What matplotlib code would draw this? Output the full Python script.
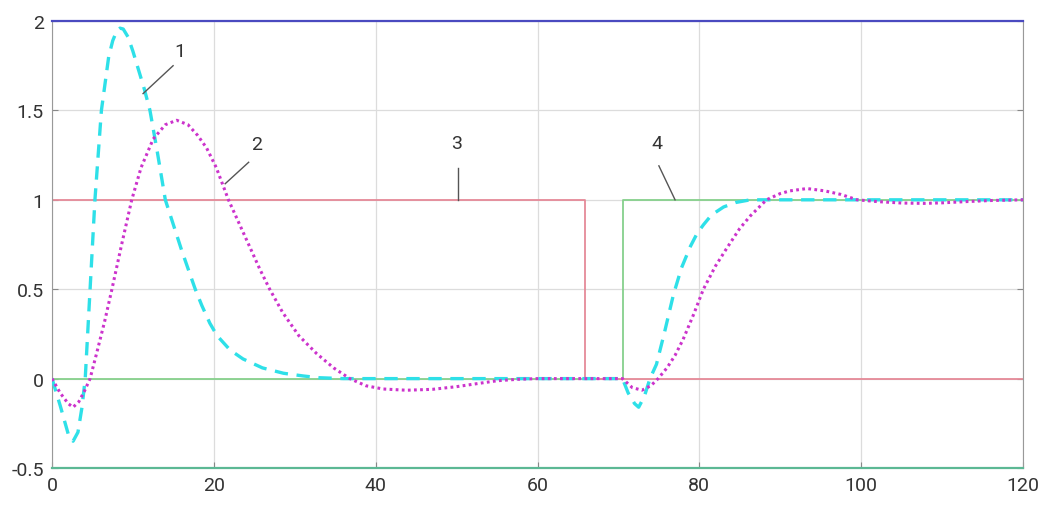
import matplotlib
matplotlib.use("Agg")
import matplotlib.pyplot as plt

# curve 1 (cyan dashed)
t1 = [0, 1, 2, 2.6, 3.2, 3.7, 4.1, 4.7, 5.3, 6.1, 7.0, 7.5, 8.0, 8.4, 8.8, 9.4, 10.0,
      10.6, 11.4, 12.1, 13.0, 14.0, 15.0, 16.0, 17.0, 17.7, 18.5, 19.5, 20.4, 22.0,
      23.6, 26.0, 28.6, 31.0, 33.0, 36, 40, 45, 50, 55, 60, 65, 70.5, 71.2, 72.0,
      72.5, 73.2, 73.9, 74.7, 75.7, 76.8, 77.8, 78.9, 79.7, 80.5, 81.5, 83.0, 84.5,
      86.3, 88, 90, 95, 100, 105, 110, 115, 120]
y1 = [0, -0.15, -0.31, -0.35, -0.3, -0.16, 0, 0.5, 1.0, 1.5, 1.8, 1.89, 1.945, 1.96,
      1.955, 1.91, 1.83, 1.74, 1.62, 1.5, 1.27, 1.0, 0.86, 0.72, 0.59, 0.5, 0.41,
      0.31, 0.24, 0.16, 0.11, 0.06, 0.03, 0.015, 0.005, 0, 0, 0, 0, 0, 0, 0, 0,
      -0.08, -0.14, -0.16, -0.1, 0, 0.08, 0.26, 0.47, 0.62, 0.74, 0.81, 0.86, 0.915,
      0.96, 0.985, 1.0, 1.0, 1.0, 1.0, 1.0, 1.0, 1.0, 1.0, 1.0]

# curve 2 (magenta dotted)
t2 = [0, 1, 2, 2.6, 3.3, 4.0, 4.7, 5.5, 6.5, 7.4, 8.6, 9.85, 11.0, 12.5, 14.0, 15.4,
      16.8, 18.0, 19.1, 20.3, 21.8, 23.0, 24.5, 25.7, 26.9, 28.5, 30.5, 32.7, 34.8,
      36.8, 38.8, 40.9, 43.8, 47, 50, 53, 55, 57.5, 60, 65, 70.5, 71.7, 72.9, 74.0,
      74.9, 76.0, 77.0, 78.0, 79.3, 80.5, 82.0, 83.4, 85.0, 86.3, 88.3, 90, 91.2,
      93.3, 95.5, 97.5, 99.5, 102, 105, 107.7, 110, 113, 116, 120]
y2 = [0, -0.08, -0.14, -0.16, -0.13, -0.07, 0, 0.14, 0.32, 0.5, 0.75, 1.0, 1.18,
      1.34, 1.42, 1.445, 1.42, 1.36, 1.29, 1.18, 1.0, 0.88, 0.73, 0.61, 0.5, 0.37,
      0.24, 0.14, 0.06, 0.0, -0.04, -0.058, -0.065, -0.06, -0.045, -0.025, -0.012,
      -0.004, 0, 0, 0, -0.05, -0.065, -0.04, 0, 0.06, 0.13, 0.22, 0.36, 0.5, 0.63,
      0.73, 0.84, 0.91, 1.0, 1.035, 1.05, 1.063, 1.05, 1.03, 1.0, 0.99, 0.982, 0.98,
      0.983, 0.99, 0.996, 1.0]

# curve 3 (red step down) and curve 4 (green step up)
t3 = [0, 65.9, 65.9, 120]
y3 = [1, 1, 0, 0]
t4 = [0, 70.6, 70.6, 120]
y4 = [0, 0, 1, 1]

# labels: text position, leader line start (on curve) and end
labels = ["1", "2", "3", "4"]
label_xy = [(15.8, 1.78), (25.3, 1.26), (50.0, 1.27), (74.7, 1.27)]
leader_from = [(11.25, 1.594), (21.4, 1.09), (50.2, 1.0), (77.0, 1.0)]
leader_to = [(14.96, 1.75), (24.3, 1.21), (50.2, 1.18), (75.0, 1.19)]

fig = plt.figure(figsize=(10.41, 5.06), dpi=100)
ax = fig.add_axes([0.05, 0.0731, 0.9327, 0.8834])

ax.plot(t4, y4, color='#86d08c', linewidth=1.3, zorder=2)
ax.plot(t3, y3, color='#e58a98', linewidth=1.3, zorder=2)
ax.plot(t1, y1, color='#2ee0e8', linewidth=2.4, linestyle=(0, (4, 2.6)), zorder=3)
ax.plot(t2, y2, color='#cc33cc', linewidth=2.2, linestyle=(0, (0.9, 1.1)), zorder=4)

for lab, (tx, ty), (x0, y0), (x1, y1_) in zip(labels, label_xy, leader_from, leader_to):
    ax.plot([x0, x1], [y0, y1_], color='#555555', linewidth=1.0, zorder=5)
    ax.text(tx, ty, lab, fontsize=14, color='#333333', ha='center', va='bottom',
            fontfamily='Roboto')

ax.set_xlim(0, 120)
ax.set_ylim(-0.5, 2)
ax.set_xticks([0, 20, 40, 60, 80, 100, 120])
ax.set_yticks([-0.5, 0, 0.5, 1, 1.5, 2])
ax.set_yticklabels(['-0.5', '0', '0.5', '1', '1.5', '2'])
ax.grid(True, color='#dcdcdc', linewidth=0.9)
ax.set_axisbelow(True)

ax.tick_params(direction='in', length=4, color='#888888', labelcolor='#333333',
               labelsize=14, right=True, top=False, pad=6)
for lbl in ax.get_xticklabels() + ax.get_yticklabels():
    lbl.set_fontfamily('Roboto')

ax.spines['top'].set_color('#4a4ac0')
ax.spines['top'].set_linewidth(1.6)
ax.spines['bottom'].set_color('#5cb894')
ax.spines['bottom'].set_linewidth(1.6)
ax.spines['left'].set_color('#999999')
ax.spines['right'].set_color('#999999')

fig.savefig('out.png', dpi=100)
